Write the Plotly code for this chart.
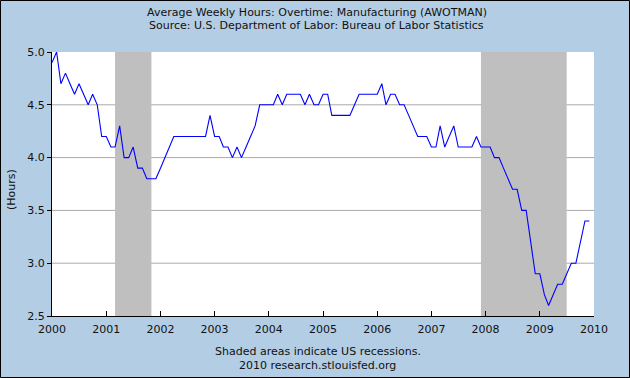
import pandas as pd
import plotly.graph_objects as go

# Monthly overtime hours, manufacturing, Jan 2000 - Dec 2009
hours_2000 = [4.9, 5.0, 4.7, 4.8, 4.7, 4.6, 4.7, 4.6, 4.5, 4.6, 4.5, 4.2]
hours_2001 = [4.2, 4.1, 4.1, 4.3, 4.0, 4.0, 4.1, 3.9, 3.9, 3.8, 3.8, 3.8]
hours_2002 = [3.9, 4.0, 4.1, 4.2, 4.2, 4.2, 4.2, 4.2, 4.2, 4.2, 4.2, 4.4]
hours_2003 = [4.2, 4.2, 4.1, 4.1, 4.0, 4.1, 4.0, 4.1, 4.2, 4.3, 4.5, 4.5]
hours_2004 = [4.5, 4.5, 4.6, 4.5, 4.6, 4.6, 4.6, 4.6, 4.5, 4.6, 4.5, 4.5]
hours_2005 = [4.6, 4.6, 4.4, 4.4, 4.4, 4.4, 4.4, 4.5, 4.6, 4.6, 4.6, 4.6]
hours_2006 = [4.6, 4.7, 4.5, 4.6, 4.6, 4.5, 4.5, 4.4, 4.3, 4.2, 4.2, 4.2]
hours_2007 = [4.1, 4.1, 4.3, 4.1, 4.2, 4.3, 4.1, 4.1, 4.1, 4.1, 4.2, 4.1]
hours_2008 = [4.1, 4.1, 4.0, 4.0, 3.9, 3.8, 3.7, 3.7, 3.5, 3.5, 3.2, 2.9]
hours_2009 = [2.9, 2.7, 2.6, 2.7, 2.8, 2.8, 2.9, 3.0, 3.0, 3.2, 3.4, 3.4]

hours = (hours_2000 + hours_2001 + hours_2002 + hours_2003 + hours_2004 +
         hours_2005 + hours_2006 + hours_2007 + hours_2008 + hours_2009)
dates = pd.date_range("2000-01-01", periods=len(hours), freq="MS")

recession_starts = ["2001-03-01", "2007-12-01"]
recession_ends = ["2001-11-01", "2009-07-01"]

y_ticks = [2.5, 3.0, 3.5, 4.0, 4.5, 5.0]
y_tick_labels = ["2.5", "3.0", "3.5", "4.0", "4.5", "5.0"]
grid_levels = [3.0, 3.5, 4.0, 4.5]

title_lines = ["Average Weekly Hours: Overtime: Manufacturing (AWOTMAN)",
               "Source: U.S. Department of Labor: Bureau of Labor Statistics"]
footer_lines = ["Shaded areas indicate US recessions.",
                "2010 research.stlouisfed.org"]

W, H = 630, 378
ML, MR, MT, MB = 52, 36, 52, 62
PW, PH = W - ML - MR, H - MT - MB

def px_x(p):
    return (p - ML) / PW

def px_y(p):
    return (H - MB - p) / PH

fig = go.Figure()
fig.add_trace(go.Scatter(x=dates, y=hours, mode="lines",
                         line=dict(color="#0000ff", width=1.1),
                         hoverinfo="x+y", showlegend=False))

shapes = []
for g in grid_levels:
    shapes.append(dict(type="line", xref="paper", yref="y", x0=0, x1=1, y0=g, y1=g,
                       line=dict(color="#aaaaaa", width=1), layer="below"))
for s, e in zip(recession_starts, recession_ends):
    shapes.append(dict(type="rect", xref="x", yref="paper", x0=s, x1=e, y0=0, y1=1,
                       fillcolor="#bfbfbf", line=dict(width=0), layer="below"))
# outer border
shapes.append(dict(type="rect", xref="paper", yref="paper",
                   x0=px_x(0.5), x1=px_x(W - 0.5), y0=px_y(H - 0.5), y1=px_y(0.5),
                   line=dict(color="black", width=1), fillcolor="rgba(0,0,0,0)"))

font = dict(family="DejaVu Sans", size=11, color="#111111")
annotations = [
    dict(text=title_lines[0], x=px_x(317), y=px_y(12.7)),
    dict(text=title_lines[1], x=px_x(316), y=px_y(25.5)),
    dict(text=footer_lines[0], x=px_x(317.5), y=px_y(351)),
    dict(text=footer_lines[1], x=px_x(317), y=px_y(365)),
    dict(text="(Hours)", x=px_x(11), y=px_y(190), textangle=-90),
]
for a in annotations:
    a.update(xref="paper", yref="paper", showarrow=False, xanchor="center",
             yanchor="middle", font=font)

fig.update_layout(
    width=W, height=H,
    margin=dict(l=ML, r=MR, t=MT, b=MB, pad=0),
    paper_bgcolor="#b3cde4",
    plot_bgcolor="#ffffff",
    font=font,
    shapes=shapes,
    annotations=annotations,
    showlegend=False,
)
fig.update_xaxes(
    type="date", range=["2000-01-01", "2010-01-01"],
    dtick="M12", tick0="2000-01-01", tickformat="%Y",
    ticks="inside", ticklen=5, tickcolor="black", tickwidth=1,
    ticklabelstandoff=3,
    showline=True, linecolor="black", linewidth=1,
    showgrid=False, zeroline=False, fixedrange=True,
)
fig.update_yaxes(
    range=[2.5, 5.0], tickvals=y_ticks, ticktext=y_tick_labels,
    ticks="outside", ticklen=4, tickcolor="black", tickwidth=1,
    showline=True, linecolor="black", linewidth=1,
    showgrid=False, zeroline=False, fixedrange=True,
)

fig.write_html("out.html", config={"displayModeBar": False},
               post_script="document.body.style.margin='0';document.body.style.overflow='hidden';")
